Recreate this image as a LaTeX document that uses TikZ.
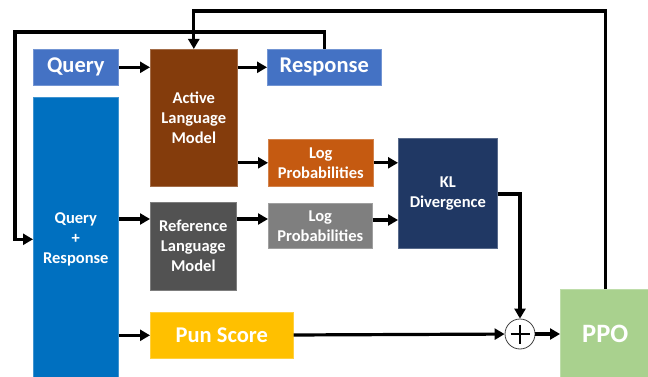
\documentclass[tikz,border=0pt]{standalone}
\usepackage{fontspec}
\setmainfont{Carlito}
\usetikzlibrary{arrows.meta,calc}

\definecolor{qblue}{HTML}{4472C4}
\definecolor{qrblue}{HTML}{0070C0}
\definecolor{brownlm}{HTML}{843C0C}
\definecolor{orangelp}{HTML}{C55A11}
\definecolor{navykl}{HTML}{203864}
\definecolor{darkref}{HTML}{525252}
\definecolor{greylp}{HTML}{7F7F7F}
\definecolor{punyellow}{HTML}{FFC000}
\definecolor{ppogreen}{HTML}{A9D18E}

\tikzset{
  box/.style={fill=#1, draw=#1!75!white, line width=0.6pt, anchor=north west,
    text=white, align=center, inner sep=0pt, font=\bfseries\fontsize{16.5}{20}\selectfont},
  bigtext/.style={font=\bfseries\fontsize{22.5}{26}\selectfont},
  conn/.style={line width=3.2pt, draw=black},
  arr/.style={conn, -{Triangle[length=10pt,width=11pt]}},
}

\begin{document}
\begin{tikzpicture}[x=1pt,y=-1pt]
\useasboundingbox (0,0) rectangle (648,377);

% input / output boxes
\node[box=qblue, bigtext, minimum width=85, minimum height=36] (query) at (33,49) {Query};
\node[box=qblue, bigtext, minimum width=114, minimum height=36] (response) at (267,49) {Response};
\node[box=qrblue, minimum width=85, minimum height=284] (qr) at (33,97) {Query\\+\\Response};

% language models
\node[box=brownlm, minimum width=87, minimum height=137] (active) at (150,49) {Active\\Language\\Model};
\node[box=darkref, minimum width=86, minimum height=88] (ref) at (150,202) {Reference\\Language\\Model};

% log probabilities and KL
\node[box=orangelp, minimum width=105, minimum height=47] (lpa) at (268,139) {Log\\Probabilities};
\node[box=greylp, minimum width=104, minimum height=45] (lpr) at (268,203) {Log\\Probabilities};
\node[box=navykl, minimum width=99, minimum height=110] (kl) at (398,138) {KL\\Divergence};

% reward and optimiser
\node[box=punyellow, bigtext, minimum width=143, minimum height=46] (pun) at (150,312) {Pun Score};
\node[box=ppogreen, font=\bfseries\fontsize{26.5}{30}\selectfont, minimum width=90, minimum height=90] (ppo) at (560,289) {PPO};

\node[circle, draw=black!75, fill=white, line width=0.8pt, minimum size=30pt, inner sep=0pt] (plus) at (520,334) {};
\draw[line width=1.2pt] ($(plus.center)+(-9.5,0)$) -- ($(plus.center)+(9.5,0)$)
                        ($(plus.center)+(0,-9.5)$) -- ($(plus.center)+(0,9.5)$);

% routing points
\coordinate (loopL) at (15,32);
\coordinate (loopT) at (604,11);
\coordinate (refrow) at (0,219);
\coordinate (klout) at (0,194);

% connectors
\draw[arr] (query) -- (query -| active.west);
\draw[arr] (active.east |- response) -- (response);
\draw[arr] (response.north) |- (loopL) |- (qr.west);
\draw[arr] (ppo.north) |- (loopT) -| (active.north);
\draw[arr] (active.east |- lpa) -- (lpa);
\draw[arr] (lpa) -- (lpa -| kl.west);
\draw[arr] (qr.east |- refrow) -- (ref.west |- refrow);
\draw[arr] (ref.east |- refrow) -- (lpr.west |- refrow);
\draw[arr] ($(lpr.east |- refrow)+(0,1)$) -- ($(kl.west |- refrow)+(0,1)$);
\draw[arr] (kl.east |- klout) -| (plus.north);
\draw[arr] (qr.east |- pun) -- (pun);
\draw[arr] (pun) -- (plus);
\draw[arr] (plus) -- (ppo.west |- plus);
\end{tikzpicture}
\end{document}
